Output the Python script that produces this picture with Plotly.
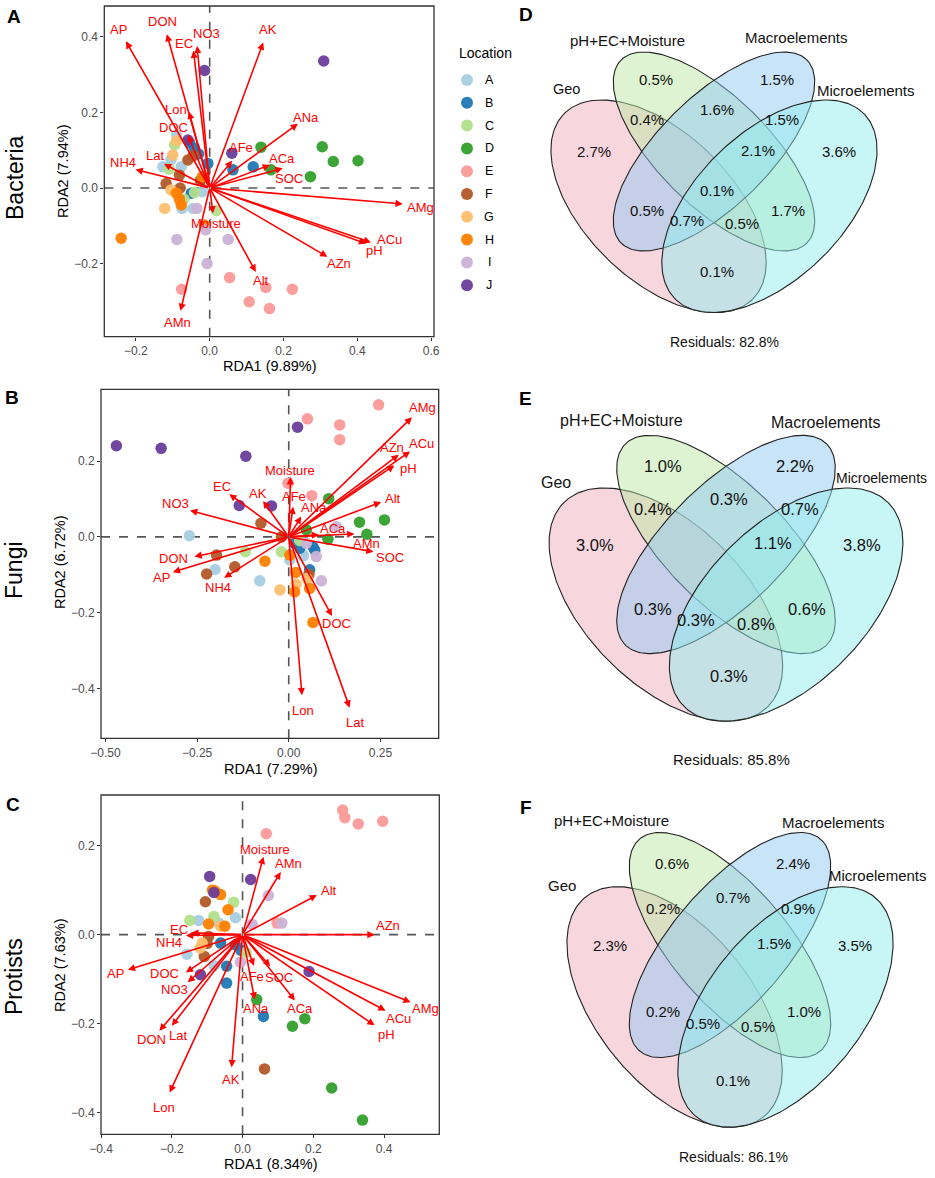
import numpy as np
import plotly.graph_objects as go

W, H = 935, 1178
FONT = "Liberation Sans, Arial, sans-serif"

# ---------------- data ----------------
locations = ["A", "B", "C", "D", "E", "F", "G", "H", "I", "J"]
loc_colors = ["#A6CEE3", "#1F78B4", "#B2DF8A", "#33A02C", "#FB9A99",
              "#B15928", "#FDBF6F", "#FF7F00", "#CAB2D6", "#6A3D9A"]

# Bacteria (A)
bac_vars = ["AP", "DON", "EC", "NO3", "AK", "Lon", "DOC", "Lat", "NH4", "AFe",
            "ANa", "ACa", "SOC", "AMg", "ACu", "pH", "AZn", "Alt", "Moisture", "AMn"]
bac_rda1 = [-0.227, -0.116, -0.044, -0.034, 0.145, -0.056, -0.059, -0.124, -0.201, 0.061,
            0.239, 0.163, 0.198, 0.523, 0.437, 0.424, 0.319, 0.125, 0.009, -0.079]
bac_rda2 = [0.388, 0.407, 0.363, 0.376, 0.385, 0.202, 0.140, 0.064, 0.049, 0.072,
            0.170, 0.061, 0.052, -0.042, -0.144, -0.147, -0.182, -0.222, -0.067, -0.325]
bac_lab1 = [-0.248, -0.127, -0.069, -0.010, 0.157, -0.091, -0.098, -0.147, -0.234, 0.086,
            0.262, 0.195, 0.216, 0.570, 0.488, 0.447, 0.350, 0.139, 0.018, -0.086]
bac_lab2 = [0.420, 0.441, 0.383, 0.408, 0.419, 0.207, 0.161, 0.086, 0.068, 0.107,
            0.187, 0.079, 0.026, -0.051, -0.136, -0.166, -0.201, -0.244, -0.095, -0.357]
bac_site_loc = (["A"] * 7 + ["B"] * 7 + ["C"] * 5 + ["D"] * 6 + ["E"] * 6 +
                ["F"] * 6 + ["G"] * 4 + ["H"] * 6 + ["I"] * 5 + ["J"] * 4)
bac_site_x = [-0.127, -0.077, -0.090, -0.045, -0.075, -0.020, -0.105,
              -0.005, 0.063, 0.118, -0.041, -0.055, -0.050, -0.030,
              -0.095, -0.041, 0.018, -0.110, -0.070,
              0.139, 0.305, 0.335, 0.402, 0.273, 0.166,
              -0.076, 0.054, 0.107, 0.152, 0.162, 0.224,
              -0.059, -0.118, -0.082, -0.045, -0.080, -0.025,
              -0.100, -0.090, -0.122, -0.105,
              -0.240, -0.090, -0.077, -0.082, -0.014, -0.020,
              -0.089, 0.050, -0.007, -0.011, -0.035,
              -0.014, 0.309, 0.060, -0.059]
bac_site_y = [0.056, 0.056, 0.140, -0.054, -0.054, -0.010, 0.075,
              0.065, 0.048, 0.056, 0.105, 0.120, -0.014, 0.090,
              0.114, -0.012, -0.060, 0.050, -0.030,
              0.108, 0.109, 0.070, 0.072, 0.030, 0.048,
              -0.268, -0.237, -0.301, -0.263, -0.319, -0.268,
              0.074, 0.012, 0.034, 0.085, 0.000, 0.020,
              0.087, 0.125, -0.054, -0.005,
              -0.133, -0.014, -0.045, -0.030, -0.098, 0.030,
              -0.136, -0.136, -0.200, -0.111, -0.054,
              0.311, 0.336, 0.092, 0.127]

# Fungi (B)
fun_vars = ["AMg", "ACu", "AZn", "pH", "Alt", "ACa", "AMn", "SOC", "ANa", "AFe",
            "Moisture", "AK", "EC", "NO3", "DON", "AP", "NH4", "DOC", "Lon", "Lat"]
fun_rda1 = [0.336, 0.331, 0.300, 0.288, 0.252, 0.082, 0.179, 0.231, 0.034, 0.012,
            0.005, -0.070, -0.162, -0.269, -0.257, -0.316, -0.176, 0.118, 0.036, 0.166]
fun_rda2 = [0.316, 0.226, 0.217, 0.189, 0.092, 0.006, 0.008, -0.039, 0.054, 0.080,
            0.158, 0.095, 0.113, 0.070, -0.052, -0.093, -0.108, -0.209, -0.418, -0.451]
fun_lab1 = [0.365, 0.363, 0.282, 0.327, 0.284, 0.120, 0.211, 0.276, 0.068, 0.014,
            0.003, -0.083, -0.183, -0.308, -0.314, -0.348, -0.194, 0.131, 0.039, 0.182]
fun_lab2 = [0.342, 0.248, 0.235, 0.180, 0.102, 0.023, -0.017, -0.055, 0.077, 0.106,
            0.175, 0.116, 0.133, 0.087, -0.056, -0.107, -0.133, -0.230, -0.459, -0.491]
fun_site_loc = (["A"] * 6 + ["B"] * 5 + ["C"] * 3 + ["D"] * 6 + ["E"] * 6 +
                ["F"] * 6 + ["G"] * 3 + ["H"] * 6 + ["I"] * 4 + ["J"] * 6)
fun_site_x = [-0.271, -0.201, -0.079, 0.037, 0.003, 0.040,
              0.016, 0.066, 0.071, 0.057, 0.030,
              -0.118, -0.020, 0.030,
              0.109, 0.193, 0.261, 0.213, 0.107, 0.048,
              0.051, 0.139, 0.139, 0.245, -0.002, 0.063,
              -0.197, -0.147, -0.224, -0.076, 0.055, -0.020,
              -0.024, 0.020, 0.050,
              -0.065, 0.019, 0.016, 0.057, 0.066, 0.003,
              0.089, 0.075, 0.130, 0.048,
              -0.470, -0.348, -0.117, 0.024, -0.135, -0.047]
fun_site_y = [0.003, -0.086, -0.116, -0.046, -0.061, -0.050,
              -0.017, -0.026, -0.035, -0.087, -0.030,
              -0.039, -0.039, -0.010,
              0.101, 0.039, 0.045, 0.007, -0.006, 0.019,
              0.312, 0.296, 0.257, 0.349, 0.142, 0.109,
              -0.048, -0.079, -0.098, 0.036, -0.099, 0.000,
              -0.140, -0.125, -0.110,
              -0.064, -0.094, -0.145, -0.136, -0.226, -0.048,
              -0.116, -0.052, 0.027, -0.017,
              0.241, 0.234, 0.213, 0.290, 0.083, 0.082]

# Protists (C)
pro_vars = ["Moisture", "AMn", "Alt", "AZn", "AMg", "ACu", "pH", "ACa", "SOC", "AFe",
            "ANa", "AK", "Lon", "DON", "Lat", "NO3", "DOC", "AP", "NH4", "EC"]
pro_rda1 = [0.059, 0.108, 0.210, 0.373, 0.475, 0.404, 0.373, 0.148, 0.078, 0.032,
            0.034, -0.031, -0.206, -0.235, -0.200, -0.155, -0.160, -0.324, -0.160, -0.145]
pro_rda2 = [0.175, 0.141, 0.089, 0.000, -0.152, -0.171, -0.204, -0.148, -0.071, -0.070,
            -0.146, -0.298, -0.355, -0.216, -0.205, -0.107, -0.085, -0.079, -0.002, 0.004]
pro_lab1 = [0.063, 0.131, 0.245, 0.410, 0.517, 0.442, 0.406, 0.162, 0.102, 0.026,
            0.037, -0.034, -0.223, -0.256, -0.183, -0.193, -0.220, -0.358, -0.209, -0.181]
pro_lab2 = [0.191, 0.159, 0.100, 0.021, -0.167, -0.188, -0.225, -0.165, -0.096, -0.094,
            -0.165, -0.325, -0.389, -0.236, -0.227, -0.124, -0.088, -0.088, -0.018, 0.011]
pro_site_loc = (["A"] * 5 + ["B"] * 6 + ["C"] * 4 + ["D"] * 5 + ["E"] * 6 +
                ["F"] * 5 + ["G"] * 3 + ["H"] * 6 + ["I"] * 4 + ["J"] * 5)
pro_site_x = [-0.124, -0.157, -0.067, -0.020, -0.080,
              0.059, -0.045, -0.045, -0.062, -0.020, -0.005,
              -0.149, -0.025, -0.081, 0.010,
              0.040, 0.141, 0.176, 0.252, 0.339,
              0.067, 0.283, 0.289, 0.327, 0.396, 0.098,
              -0.105, -0.108, 0.062, -0.096, -0.100,
              -0.114, -0.062, -0.120,
              -0.078, -0.062, -0.041, -0.096, -0.050, -0.085,
              0.073, 0.111, 0.027, -0.006,
              -0.093, 0.023, -0.119, 0.188, -0.081]
pro_site_y = [0.032, -0.044, 0.026, 0.038, -0.070,
              -0.184, -0.109, -0.071, -0.019, -0.023, -0.035,
              0.032, 0.073, 0.041, -0.040,
              -0.146, -0.206, -0.189, -0.345, -0.417,
              0.227, 0.280, 0.263, 0.249, 0.255, 0.026,
              0.074, -0.049, -0.302, -0.004, -0.020,
              -0.019, 0.019, -0.030,
              0.098, 0.090, 0.056, 0.024, 0.019, 0.100,
              0.088, 0.026, 0.023, -0.062,
              0.131, 0.124, -0.090, -0.083, 0.095]

# Variation partitioning (D, E, F)
venn_sets = ["Geo", "pH+EC+Moisture", "Macroelements", "Microelements"]
venn_regions = ["Geo", "pH", "Macro", "Micro", "Geo&pH", "pH&Macro", "Macro&Micro",
                "pH&Macro&Micro", "All", "Geo&Macro", "Geo&Macro&Micro",
                "Geo&pH&Micro", "pH&Micro", "Geo&Micro"]
bac_venn = [2.7, 0.5, 1.5, 3.6, 0.4, 1.6, 1.5, 2.1, 0.1, 0.5, 0.7, 0.5, 1.7, 0.1]
fun_venn = [3.0, 1.0, 2.2, 3.8, 0.4, 0.3, 0.7, 1.1, None, 0.3, 0.3, 0.8, 0.6, 0.3]
pro_venn = [2.3, 0.6, 2.4, 3.5, 0.2, 0.7, 0.9, 1.5, None, 0.2, 0.5, 0.5, 1.0, 0.1]
residuals = [82.8, 85.8, 86.1]

# ---------------- layout helpers ----------------
def fx(px):
    return px / W

def fy(py):
    return 1 - py / H

fig = go.Figure()
layout = dict(width=W, height=H, margin=dict(l=0, r=0, t=0, b=0, pad=0, autoexpand=False),
              paper_bgcolor="white", plot_bgcolor="white",
              font=dict(family=FONT, color="black"), showlegend=False)
annotations = []
shapes = []


def axname(n, kind):
    return f"{kind}axis" if n == 1 else f"{kind}axis{n}"


def ref(n, kind):
    return kind if n == 1 else f"{kind}{n}"


def ticktxt(vals, nd):
    out = []
    for v in vals:
        s = f"{abs(v):.{nd}f}"
        out.append(("\u2212" + s) if v < 0 else s)
    return out


def paper_text(px, py, txt, size, angle=0, xanchor="center"):
    annotations.append(dict(x=fx(px), y=fy(py), xref="paper", yref="paper", text=txt,
                            showarrow=False, textangle=angle, xanchor=xanchor,
                            yanchor="middle", font=dict(size=size, color="black")))


def rda_panel(n, box, xr, yr, xt, yt, xnd, ynd, loc, sx, sy, vars_, r1, r2, l1, l2):
    x0, x1, y0, y1 = box
    xa, ya = ref(n, "x"), ref(n, "y")
    common = dict(showline=False, ticks="outside", ticklen=3, tickwidth=1,
                  tickcolor="#333333", tickfont=dict(size=12, color="#4D4D4D", family=FONT),
                  showgrid=False, zeroline=False, fixedrange=True, automargin=False)
    layout[axname(n, "x")] = dict(domain=[fx(x0), fx(x1)], range=xr, tickmode="array",
                                  tickvals=xt, ticktext=ticktxt(xt, xnd), anchor=ya, **common)
    layout[axname(n, "y")] = dict(domain=[fy(y1), fy(y0)], range=yr, tickmode="array",
                                  tickvals=yt, ticktext=ticktxt(yt, ynd), anchor=xa, **common)
    colors = [loc_colors[locations.index(l)] for l in loc]
    fig.add_trace(go.Scatter(x=sx, y=sy, mode="markers", xaxis=xa, yaxis=ya,
                             marker=dict(size=11.5, color=colors, opacity=0.95,
                                         line=dict(width=0)),
                             hoverinfo="skip", showlegend=False))
    dl = dict(color="#555555", width=1.6, dash="dash")
    shapes.append(dict(type="line", xref=xa, yref=ya, x0=0, x1=0, y0=yr[0], y1=yr[1],
                       line=dl, layer="below"))
    shapes.append(dict(type="line", xref=xa, yref=ya, x0=xr[0], x1=xr[1], y0=0, y1=0,
                       line=dl, layer="below"))
    shapes.append(dict(type="rect", xref=xa + " domain", yref=ya + " domain",
                       x0=0, x1=1, y0=0, y1=1, line=dict(color="#333333", width=1.3),
                       fillcolor="rgba(0,0,0,0)", layer="above"))
    for v, a, b in zip(vars_, r1, r2):
        annotations.append(dict(x=a, y=b, ax=0, ay=0, xref=xa, yref=ya, axref=xa, ayref=ya,
                                text="", showarrow=True, arrowhead=2, arrowsize=0.9,
                                arrowwidth=1.6, arrowcolor="#FF0000", standoff=0,
                                startstandoff=0))
    for v, la, lb in zip(vars_, l1, l2):
        annotations.append(dict(x=la, y=lb, xref=xa, yref=ya, text=v, showarrow=False,
                                xanchor="center", yanchor="middle",
                                font=dict(color="#FF0000", size=13, family=FONT)))


rda_panel(1, (104.3, 434, 6, 336.7), [-0.2856, 0.6079], [-0.3934, 0.4815],
          [-0.2, 0, 0.2, 0.4, 0.6], [-0.2, 0, 0.2, 0.4], 1, 1,
          bac_site_loc, bac_site_x, bac_site_y, bac_vars, bac_rda1, bac_rda2, bac_lab1, bac_lab2)
rda_panel(2, (101, 438.7, 389.3, 738.3), [-0.512, 0.409], [-0.532, 0.390],
          [-0.5, -0.25, 0, 0.25], [-0.4, -0.2, 0, 0.2], 2, 1,
          fun_site_loc, fun_site_x, fun_site_y, fun_vars, fun_rda1, fun_rda2, fun_lab1, fun_lab2)
rda_panel(3, (101, 439.3, 795, 1134.3), [-0.400, 0.556], [-0.449, 0.314],
          [-0.4, -0.2, 0, 0.2, 0.4], [-0.4, -0.2, 0, 0.2], 1, 1,
          pro_site_loc, pro_site_x, pro_site_y, pro_vars, pro_rda1, pro_rda2, pro_lab1, pro_lab2)

# axis titles, row titles, panel letters
for (tx, ty, txt) in [(269, 366, "RDA1 (9.89%)"), (270, 769, "RDA1 (7.29%)"),
                      (270, 1164, "RDA1 (8.34%)")]:
    paper_text(tx, ty, txt, 14.5)
for (tx, ty, txt) in [(63, 172, "RDA2 (7.94%)"), (60, 563, "RDA2 (6.72%)"),
                      (60, 966, "RDA2 (7.63%)")]:
    paper_text(tx, ty, txt, 14.5, angle=-90)
for (tx, ty, txt) in [(15, 178, "Bacteria"), (14, 570, "Fungi"), (14, 977, "Protists")]:
    paper_text(tx, ty, txt, 23, angle=-90)
for (tx, ty, txt) in [(14, 17, "A"), (12, 398, "B"), (13, 804, "C"),
                      (526, 15, "D"), (525, 399, "E"), (526, 807, "F")]:
    paper_text(tx, ty, f"<b>{txt}</b>", 19)

# ---------------- manual legend ----------------
leg_n = 7
layout[axname(leg_n, "x")] = dict(domain=[fx(440), fx(525)], range=[440, 525],
                                  visible=False, fixedrange=True, anchor=ref(leg_n, "y"))
layout[axname(leg_n, "y")] = dict(domain=[fy(300), fy(40)],
                                  range=[-(300 - 80) / 22.8, (80 - 40) / 22.8],
                                  visible=False, fixedrange=True, anchor=ref(leg_n, "x"))
leg_idx = list(range(len(locations)))
fig.add_trace(go.Scatter(x=[467] * len(locations), y=[-k for k in leg_idx], mode="markers",
                         xaxis=ref(leg_n, "x"), yaxis=ref(leg_n, "y"),
                         marker=dict(size=12, color=loc_colors, opacity=0.95),
                         hoverinfo="skip", showlegend=False))
for k, name in zip(leg_idx, locations):
    annotations.append(dict(x=489, y=-k, xref=ref(leg_n, "x"), yref=ref(leg_n, "y"),
                            text=name, showarrow=False, xanchor="center", yanchor="middle",
                            font=dict(size=12.5, color="black")))
paper_text(457, 53, "Location", 14, xanchor="left")

# ---------------- Venn diagrams ----------------
ell_params = [(-0.15, -0.15, 0.36, 0.20, -45),   # Geo
              (0.0, 0.0, 0.355, 0.15, -45),      # pH+EC+Moisture
              (0.0, 0.0, 0.355, 0.15, 45),       # Macroelements
              (0.15, -0.15, 0.36, 0.20, 45)]     # Microelements
ell_fill = ["rgba(241,173,189,0.5)", "rgba(187,231,165,0.5)",
            "rgba(145,201,241,0.5)", "rgba(145,235,237,0.5)"]
region_pos = {"Geo": (-0.326, 0.0), "pH": (-0.156, 0.197), "Macro": (0.171, 0.197),
              "Micro": (0.338, 0.0), "Geo&pH": (-0.182, 0.089), "pH&Macro": (0.007, 0.114),
              "Macro&Micro": (0.184, 0.089), "pH&Macro&Micro": (0.118, 0.004),
              "All": (0.008, -0.107), "Geo&Macro": (-0.182, -0.162),
              "Geo&Macro&Micro": (-0.074, -0.189), "Geo&pH&Micro": (0.076, -0.198),
              "pH&Micro": (0.201, -0.162), "Geo&Micro": (0.008, -0.328)}

t = np.linspace(0, 2 * np.pi, 240)


def venn_panel(n, cx, cy, sx, sy, vals, resid, name_pos, resid_pos, fs_num, fs_res):
    px0, px1 = 470, 935
    py0, py1 = name_pos["box"]
    ur = [(px0 - cx) / sx, (px1 - cx) / sx]
    vr = [(cy - py1) / sy, (cy - py0) / sy]
    xa, ya = ref(n, "x"), ref(n, "y")
    layout[axname(n, "x")] = dict(domain=[fx(px0), fx(px1)], range=ur, visible=False,
                                  fixedrange=True, anchor=ya)
    layout[axname(n, "y")] = dict(domain=[fy(py1), fy(py0)], range=vr, visible=False,
                                  fixedrange=True, anchor=xa)
    for (ecx, ecy, a, b, ang), col, sname in zip(ell_params, ell_fill, venn_sets):
        th = np.deg2rad(ang)
        ex = ecx + a * np.cos(t) * np.cos(th) - b * np.sin(t) * np.sin(th)
        ey = ecy + a * np.cos(t) * np.sin(th) + b * np.sin(t) * np.cos(th)
        fig.add_trace(go.Scatter(x=ex, y=ey, mode="lines", fill="toself", fillcolor=col,
                                 line=dict(color="#222222", width=1.1), xaxis=xa, yaxis=ya,
                                 hoverinfo="skip", showlegend=False, name=sname))
    for reg, v in zip(venn_regions, vals):
        if v is None:
            continue
        u, w = region_pos[reg]
        annotations.append(dict(x=u, y=w, xref=xa, yref=ya, text=f"{v:.1f}%",
                                showarrow=False, xanchor="center", yanchor="middle",
                                font=dict(size=fs_num, color="#111111")))
    for sname in venn_sets:
        u, w, fs = name_pos[sname]
        annotations.append(dict(x=u, y=w, xref=xa, yref=ya, text=sname, showarrow=False,
                                xanchor="center", yanchor="middle",
                                font=dict(size=fs, color="#111111")))
    annotations.append(dict(x=resid_pos[0], y=resid_pos[1], xref=xa, yref=ya,
                            text=f"Residuals: {resid:.1f}%", showarrow=False,
                            xanchor="center", yanchor="middle",
                            font=dict(size=fs_res, color="#111111")))


venn_panel(4, 714, 151.5, 369.6, 365, bac_venn, residuals[0],
           {"box": (0, 375), "Geo": (-0.400, 0.171, 14.5), "pH+EC+Moisture": (-0.233, 0.305, 15),
            "Macroelements": (0.222, 0.313, 15), "Microelements": (0.411, 0.167, 15)},
           (0.028, -0.523), 15, 14)
venn_panel(5, 726, 544.5, 401, 400.5, fun_venn, residuals[1],
           {"box": (375, 775), "Geo": (-0.424, 0.154, 16), "pH+EC+Moisture": (-0.260, 0.309, 16),
            "Macroelements": (0.249, 0.305, 16), "Microelements": (0.388, 0.165, 14)},
           (0.014, -0.538), 16.5, 15)
venn_panel(6, 730, 945, 369.6, 413, pro_venn, residuals[2],
           {"box": (775, 1178), "Geo": (-0.454, 0.145, 15), "pH+EC+Moisture": (-0.320, 0.301, 15),
            "Macroelements": (0.279, 0.297, 15), "Microelements": (0.401, 0.169, 15)},
           (0.009, -0.513), 15, 14)

layout["annotations"] = annotations
layout["shapes"] = shapes
fig.update_layout(**layout)
fig.write_html("out.html", config={"displayModeBar": False, "staticPlot": True},
               post_script="document.body.style.margin='0px';")
